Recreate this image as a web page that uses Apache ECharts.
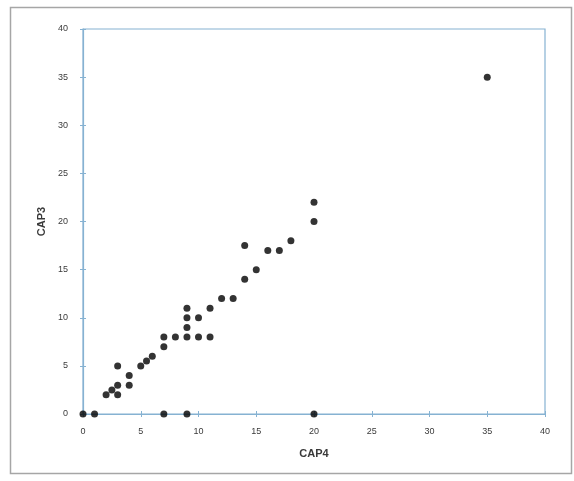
<!DOCTYPE html>
<html>
<head>
<meta charset="utf-8">
<script src="https://cdn.jsdelivr.net/npm/echarts@6/dist/echarts.min.js"></script>
<style>html,body{margin:0;padding:0;background:#fff}#c{width:574px;height:481px}</style>
</head>
<body>
<div id="c"></div>
<script>
const cap4 = [0, 1, 7, 9, 20, 2, 2.5, 3, 3, 3, 4, 4, 5, 5.5, 6, 7, 7, 8, 9, 9, 9, 9, 10, 10, 11, 11, 12, 13, 14, 14, 15, 16, 17, 18, 20, 20, 35];
const cap3 = [0, 0, 0, 0, 0, 2, 2.5, 3, 2, 5, 4, 3, 5, 5.5, 6, 7, 8, 8, 8, 9, 10, 11, 10, 8, 8, 11, 12, 12, 14, 17.5, 15, 17, 17, 18, 20, 22, 35];
const xTitle = 'CAP4';
const yTitle = 'CAP3';

const points = cap4.map((x, i) => [x, cap3[i]]);
const axisBlue = '#86b2d2';
const txt = '#3a3a3a';
const font = 'Liberation Sans';

const chart = echarts.init(document.getElementById('c'), null, {renderer: 'canvas'});
chart.setOption({
  animation: false,
  backgroundColor: '#fff',
  graphic: [{
    type: 'rect',
    shape: {x: 10.5, y: 7.5, width: 561, height: 466},
    style: {fill: 'none', stroke: '#a6a6a6', lineWidth: 1.5},
    z: -10
  }],
  grid: {left: 83, right: 29, top: 29, bottom: 67, show: true, borderColor: axisBlue, borderWidth: 1.2, backgroundColor: '#fff'},
  xAxis: [{
    type: 'value', min: 0, max: 40, interval: 5,
    name: xTitle, nameLocation: 'middle', nameGap: 34,
    nameTextStyle: {fontFamily: font, fontSize: 11, fontWeight: 'bold', color: txt},
    axisLine: {show: true, lineStyle: {color: axisBlue, width: 1.2}},
    axisTick: {show: true, inside: false, length: 3, lineStyle: {color: axisBlue}},
    axisLabel: {fontFamily: font, fontSize: 9, color: txt, margin: 13},
    splitLine: {show: false}
  }, {
    type: 'value', min: 0, max: 40, interval: 5, position: 'bottom',
    axisLine: {show: false},
    axisTick: {show: true, inside: true, length: 3, lineStyle: {color: axisBlue}},
    axisLabel: {show: false},
    splitLine: {show: false}
  }],
  yAxis: [{
    type: 'value', min: 0, max: 40, interval: 5,
    name: yTitle, nameLocation: 'middle', nameGap: 33, nameRotate: 90,
    nameTextStyle: {fontFamily: font, fontSize: 11, fontWeight: 'bold', color: txt},
    axisLine: {show: true, lineStyle: {color: axisBlue, width: 1.2}},
    axisTick: {show: true, inside: false, length: 3, lineStyle: {color: axisBlue}},
    axisLabel: {fontFamily: font, fontSize: 9, color: txt, margin: 15},
    splitLine: {show: false}
  }, {
    type: 'value', min: 0, max: 40, interval: 5, position: 'left',
    axisLine: {show: false},
    axisTick: {show: true, inside: true, length: 3, lineStyle: {color: axisBlue}},
    axisLabel: {show: false},
    splitLine: {show: false}
  }],
  series: [{
    type: 'scatter',
    data: points,
    symbol: 'circle',
    symbolSize: 7,
    itemStyle: {color: '#000'},
    xAxisIndex: 0, yAxisIndex: 0,
    clip: false
  }]
});
</script>
</body>
</html>
